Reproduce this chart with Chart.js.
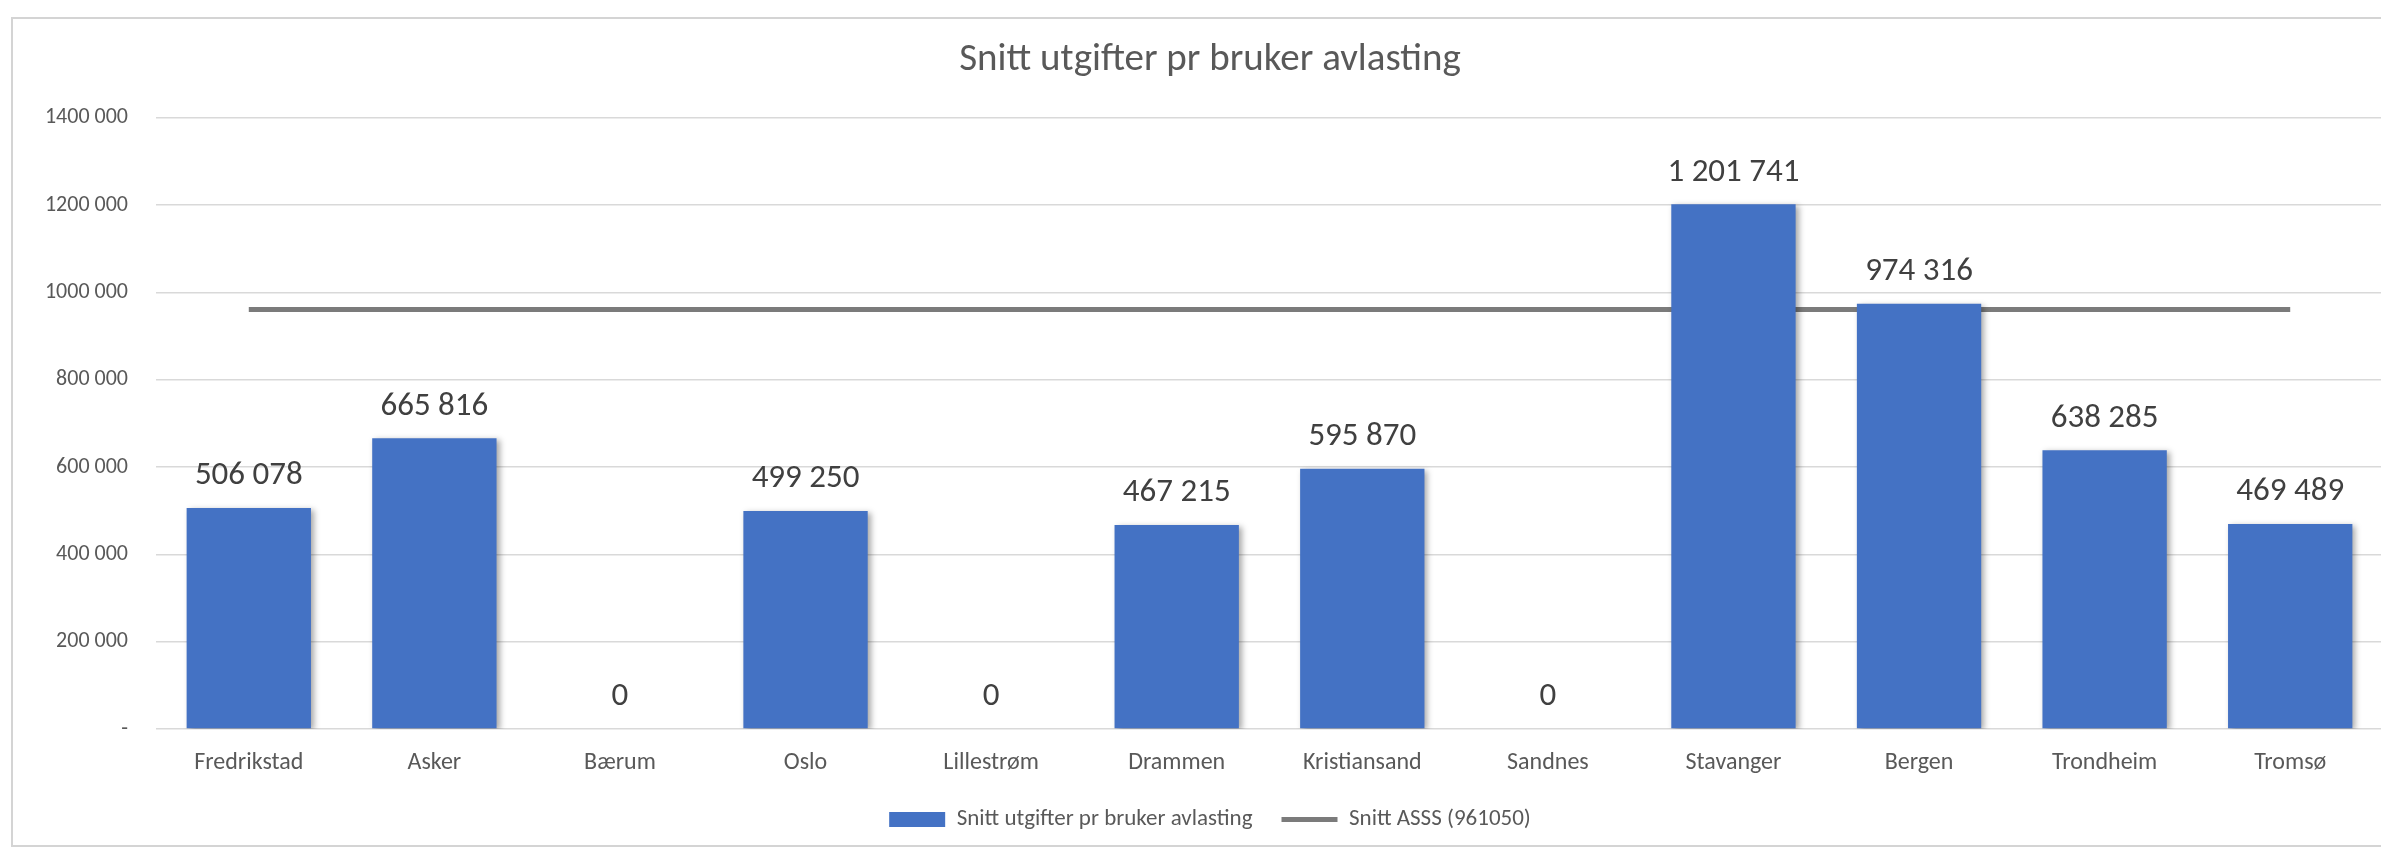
<!DOCTYPE html>
<html>
<head>
<meta charset="utf-8">
<script src="https://cdn.jsdelivr.net/npm/chart.js@4/dist/chart.umd.min.js"></script>
<style>
  html, body { margin: 0; padding: 0; background: #fff; overflow: hidden; width: 2381px; height: 850px; }
  #frame { position: absolute; left: 11px; top: 17px; width: 2500px; height: 826px; border: 2px solid #d4d4d4; }
  #wrap { position: absolute; left: 0; top: 0; width: 2400px; height: 850px; }
</style>
</head>
<body>
<div id="frame"></div>
<div id="wrap"><canvas id="chart" width="2400" height="850"></canvas></div>
<script>
// data
const municipalities = ['Fredrikstad', 'Asker', 'Bærum', 'Oslo', 'Lillestrøm', 'Drammen',
    'Kristiansand', 'Sandnes', 'Stavanger', 'Bergen', 'Trondheim', 'Tromsø'];
const costPerUser = [506078, 665816, 0, 499250, 0, 467215, 595870, 0, 1201741, 974316, 638285, 469489];
const asssAverage = [961050, 961050, 961050, 961050, 961050, 961050, 961050, 961050, 961050, 961050, 961050, 961050];
const yTickLabels = ['-', '200 000', '400 000', '600 000', '800 000', '1000 000', '1200 000', '1400 000'];

const fontFamily = 'Carlito, Calibri, "Liberation Sans", sans-serif';

function formatNumber(v) {
    return String(v).replace(/\B(?=(\d{3})+(?!\d))/g, ' ');
}

// soft shadow behind the bars, like the Excel original
const barShadow = {
    id: 'barShadow',
    beforeDatasetDraw(chart, args) {
        if (args.index !== 0) return;
        const ctx = chart.ctx;
        ctx.save();
        ctx.shadowColor = 'rgba(0,0,0,0.35)';
        ctx.shadowBlur = 6;
        ctx.shadowOffsetX = 3;
        ctx.shadowOffsetY = 2;
    },
    afterDatasetDraw(chart, args) {
        if (args.index !== 0) return;
        chart.ctx.restore();
    }
};

// value labels above each bar
const barValues = {
    id: 'barValues',
    afterDatasetsDraw(chart) {
        const ctx = chart.ctx;
        const meta = chart.getDatasetMeta(0);
        ctx.save();
        ctx.font = '33px ' + fontFamily;
        ctx.fillStyle = '#404040';
        ctx.textAlign = 'center';
        ctx.textBaseline = 'middle';
        meta.data.forEach((bar, i) => {
            ctx.fillText(formatNumber(costPerUser[i]), bar.x, bar.y - 32);
        });
        ctx.restore();
    }
};

new Chart(document.getElementById('chart'), {
    data: {
        labels: municipalities,
        datasets: [{
            type: 'bar',
            label: 'Snitt utgifter pr bruker avlasting',
            data: costPerUser,
            backgroundColor: '#4472c4',
            borderWidth: 0,
            barPercentage: 0.67,
            categoryPercentage: 1,
            pointStyle: 'rect'
        }, {
            type: 'line',
            label: 'Snitt ASSS (961050)',
            data: asssAverage,
            borderColor: 'rgba(15,15,15,0.55)',
            backgroundColor: 'rgba(15,15,15,0.55)',
            borderWidth: 5,
            pointRadius: 0,
            pointStyle: 'line'
        }]
    },
    options: {
        responsive: false,
        animation: false,
        devicePixelRatio: 1,
        layout: { padding: { left: 37, right: 17, top: 0, bottom: 9 } },
        plugins: {
            title: {
                display: true,
                text: 'Snitt utgifter pr bruker avlasting',
                color: '#595959',
                font: { family: fontFamily, size: 39, weight: 'normal' },
                padding: { top: 37, bottom: 34 }
            },
            legend: {
                position: 'bottom',
                labels: {
                    usePointStyle: true,
                    pointStyleWidth: 56,
                    boxHeight: 15,
                    padding: 29,
                    color: '#595959',
                    font: { family: fontFamily, size: 23 }
                }
            },
            tooltip: { enabled: false }
        },
        scales: {
            x: {
                grid: { display: false, drawTicks: false },
                border: { display: false },
                ticks: { color: '#595959', padding: 20, font: { family: fontFamily, size: 24 } },
                afterFit(scale) { scale.height = 50; }
            },
            y: {
                min: 0,
                max: 1400000,
                grid: { color: '#d9d9d9', lineWidth: 1.5, drawTicks: false },
                border: { display: false },
                ticks: {
                    stepSize: 200000,
                    color: '#595959',
                    padding: 28,
                    font: { family: fontFamily, size: 22 },
                    callback: (value, index) => yTickLabels[index]
                },
                afterFit(scale) { scale.width = 119; }
            }
        }
    },
    plugins: [barShadow, barValues]
});
</script>
</body>
</html>
